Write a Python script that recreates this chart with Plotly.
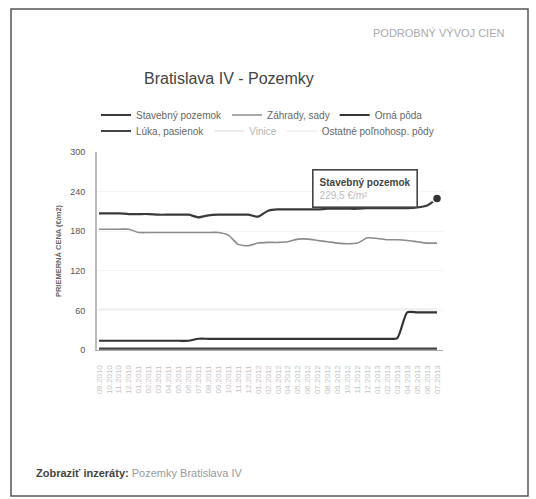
import plotly.graph_objects as go

DATES = ["09.2010", "10.2010", "11.2010", "12.2010", "01.2011", "02.2011", "03.2011",
         "04.2011", "05.2011", "06.2011", "07.2011", "08.2011", "09.2011", "10.2011",
         "11.2011", "12.2011", "01.2012", "02.2012", "03.2012", "04.2012", "05.2012",
         "06.2012", "07.2012", "08.2012", "09.2012", "10.2012", "11.2012", "12.2012",
         "01.2013", "02.2013", "03.2013", "04.2013", "05.2013", "06.2013", "07.2013"]

STAVEBNY = [207, 207, 207, 206, 206, 206, 205, 205, 205, 205, 201, 204, 205, 205, 205, 205, 202,
            211, 213, 213, 213, 213, 213, 214, 214, 214, 214, 215, 215, 215, 215, 215, 216, 219, 229.5]
ZAHRADY = [183, 183, 183, 183, 178, 178, 178, 178, 178, 178, 178, 178, 178, 174, 160, 158, 162,
           163, 163, 164, 168, 168, 166, 164, 162, 161, 162, 170, 169, 167, 167, 166, 164, 162, 162]
ORNA = [14, 14, 14, 14, 14, 14, 14, 14, 14, 14, 17, 17, 17, 17, 17, 17, 17, 17, 17, 17, 17, 17,
        17, 17, 17, 17, 17, 17, 17, 17, 18, 57, 57, 57, 57]
LUKA = [2] * 35
VINICE = [40] * 35
OSTATNE = [62] * 35

SERIES = [
    ("Stavebný pozemok", STAVEBNY, "#3a3a3a", 2.2, True, "legend"),
    ("Záhrady, sady", ZAHRADY, "#8c8c8c", 1.6, True, "legend"),
    ("Orná pôda", ORNA, "#333333", 2.2, True, "legend"),
    ("Lúka, pasienok", LUKA, "#444444", 2.2, True, "legend2"),
    ("Vinice", VINICE, "#cccccc", 1.5, "legendonly", "legend2"),
    ("Ostatné poľnohosp. pôdy", OSTATNE, "#ececec", 1.5, True, "legend2"),
]

FONT = "Arial, Liberation Sans, sans-serif"
fig = go.Figure()
for name, vals, col, w, vis, leg in SERIES:
    fig.add_trace(go.Scatter(x=DATES, y=vals, name=name, mode="lines", visible=vis, legend=leg,
                             line=dict(color=col, width=w, shape="spline", smoothing=0.6)))

# highlighted last point
fig.add_trace(go.Scatter(x=[DATES[-1]], y=[STAVEBNY[-1]], mode="markers", showlegend=False,
                         marker=dict(size=9, color="#333333", line=dict(color="#ffffff", width=1.5))))

W, H = 536, 499
L, R, T, B = 97, 93, 152, 149
pw, ph = W - L - R, H - T - B


def px(x):
    return (x - L) / pw


def py(y):
    return (H - B - y) / ph


fig.add_shape(type="rect", xref="paper", yref="paper", x0=px(11), x1=px(528), y0=py(496), y1=py(9),
              line=dict(color="#555555", width=1.5), layer="below")

fig.add_annotation(xref="paper", yref="paper", x=px(506), y=py(33), xanchor="right", yanchor="middle",
                   text="PODROBNÝ VÝVOJ CIEN", showarrow=False,
                   font=dict(family=FONT, size=11, color="#aaaaaa"))
fig.add_annotation(xref="paper", yref="paper", x=px(229), y=py(78), xanchor="center", yanchor="middle",
                   text="Bratislava IV - Pozemky", showarrow=False,
                   font=dict(family=FONT, size=16, color="#444444"))
fig.add_annotation(xref="paper", yref="paper", x=px(34), y=py(473), xanchor="left", yanchor="middle",
                   text="<b>Zobraziť inzeráty:</b> <span style='color:#999999'>Pozemky Bratislava IV</span>",
                   showarrow=False, font=dict(family=FONT, size=11, color="#444444"))
fig.add_annotation(x=len(DATES) - 1, y=STAVEBNY[-1], xref="x", yref="y", xshift=-72, yshift=10,
                   xanchor="center", yanchor="middle", showarrow=False, align="left",
                   text="<b>Stavebný pozemok</b><br><span style='color:#bbbbbb'>229,5 €/m²</span>",
                   bgcolor="#ffffff", bordercolor="#444444", borderwidth=1.6, borderpad=6,
                   font=dict(family=FONT, size=10, color="#444444"))

legfont = dict(family=FONT, size=10, color="#666666")
fig.update_layout(
    width=W, height=H, margin=dict(l=L, r=R, t=T, b=B),
    paper_bgcolor="#ffffff", plot_bgcolor="#ffffff",
    font=dict(family=FONT, color="#555555"),
    legend=dict(orientation="h", x=px(96), xanchor="left", y=py(115), yanchor="middle",
                font=legfont, itemwidth=30, bgcolor="rgba(0,0,0,0)"),
    legend2=dict(orientation="h", x=px(96), xanchor="left", y=py(131), yanchor="middle",
                 font=legfont, itemwidth=30, bgcolor="rgba(0,0,0,0)"),
    xaxis=dict(type="category", range=[-0.2, 34.6], tickangle=-90, showgrid=False,
               tickmode="array", tickvals=DATES, ticktext=DATES,
               showline=True, linecolor="#aaaaaa", linewidth=1, ticks="outside", ticklen=11,
               tickcolor="#ffffff", tickfont=dict(size=8, color="#c4c4c4")),
    yaxis=dict(range=[0, 300], tickvals=[0, 60, 120, 180, 240, 300], showgrid=True,
               gridcolor="#f4f4f4", zeroline=False, showline=True, linecolor="#bbbbbb",
               linewidth=2, ticks="outside", ticklen=8, tickcolor="#ffffff",
               tickfont=dict(size=9, color="#555555"),
               title=dict(text="<b>PRIEMERNÁ CENA (€/m2)</b>", font=dict(size=7.5, color="#666666"),
                          standoff=8)),
)

fig.write_html("out.html")
